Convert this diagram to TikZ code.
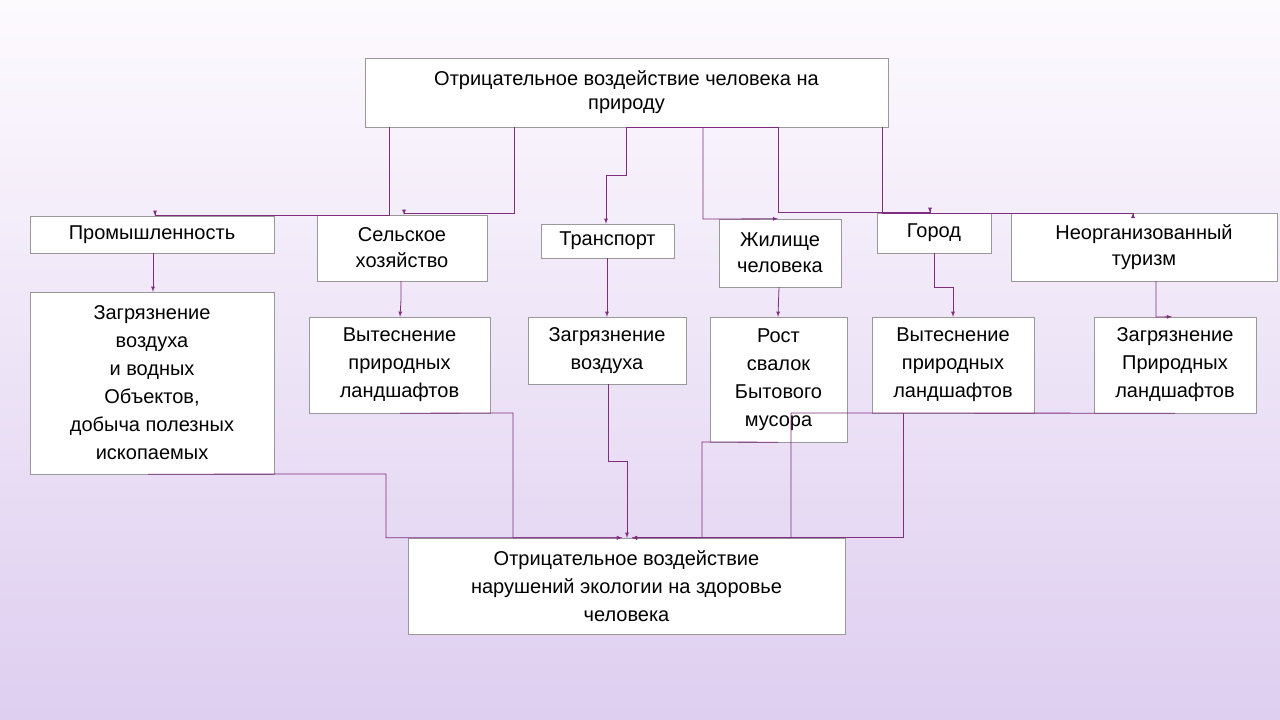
\documentclass[tikz,border=0pt]{standalone}
\usepackage{fontspec}
\setmainfont{Liberation Sans}
\usetikzlibrary{arrows}
\definecolor{linkcol}{RGB}{128,45,128}
\definecolor{bgtop}{RGB}{253,250,254}
\definecolor{bgbot}{RGB}{222,206,240}
\begin{document}
\begin{tikzpicture}[x=1pt,y=-1pt,
        box/.style={draw=gray!80, fill=white, inner sep=1pt, align=center,
            font=\fontsize{20}{28}\selectfont},
        link/.style={draw=linkcol, line width=0.8pt, -latex}]
        % --- BACKGROUND ---
        \shade[top color=bgtop, bottom color=bgbot] (0,0) rectangle (1280,720);
        \useasboundingbox (0,0) rectangle (1280,720);
        % --- BOXES ---
        \newcommand{\bx}[6]{
            % name, x1, y1, x2, y2, text
            \node[box, minimum width=#4-#2, minimum height=#5-#3] (#1) at ({(#2+#4)/2},{(#3+#5)/2}) {#6};
        }
        \bx{top}{365}{58}{888}{127}{Отрицательное воздействие человека на\\[-4pt]природу}
        \bx{prom}{30}{216}{274}{253}{Промышленность}
        \bx{sel}{317}{215}{487}{281}{Сельское\\[-2pt]хозяйство}
        \bx{trans}{541}{224}{674}{258}{Транспорт}
        \bx{zhil}{719}{219}{841}{287}{Жилище\\[-2pt]человека}
        \bx{gorod}{877}{213}{991}{253}{Город}
        \bx{tur}{1011}{213}{1277}{281}{Неорганизованный\\[-2pt]туризм}
        \bx{zagA}{30}{292}{274}{474}{Загрязнение\\воздуха\\и водных\\Объектов,\\добыча полезных\\ископаемых}
        \bx{vytA}{309}{317}{490}{413}{Вытеснение\\природных\\ландшафтов}
        \bx{zagB}{528}{317}{686}{384}{Загрязнение\\воздуха}
        \bx{rost}{710}{317}{847}{442}{Рост\\свалок\\Бытового\\мусора}
        \bx{vytB}{872}{317}{1034}{413}{Вытеснение\\природных\\ландшафтов}
        \bx{zagC}{1094}{317}{1256}{413}{Загрязнение\\Природных\\ландшафтов}
        \bx{health}{408}{538}{845}{634}{Отрицательное воздействие\\нарушений экологии на здоровье\\человека}
        % --- TOP TO CAUSES ---
        \draw[link] (top.south -| 389,0) -- (389,215) -| (prom.north -| 155,0);
        \draw[link] (top.south -| 514,0) -- (514,213) -| (sel.north -| 404,0);
        \draw[link] (top.south -| 626,0) -- (626,175) -| (trans.north -| 606,0);
        \draw[link] (top.south -| 703,0) -- (703,219) -- (zhil.north -| 778,0);
        \draw[linkcol, line width=1.4pt] (top.south -| 626,0) -- (top.south -| 778,0);
        \draw[link] (top.south -| 778,0) -- (778,212) -| (gorod.north -| 930,0);
        \draw[link] (top.south -| 882,0) -- (882,213) -| (tur.north -| 1133,0);
        % --- CAUSES TO EFFECTS ---
        \draw[link] (prom.south -| 153,0) -- (zagA.north -| 153,0);
        \draw[link] (sel.south -| 401,0) -- (401,300) -- (vytA.north -| 400,0);
        \draw[link] (trans.south -| 607,0) -- (zagB.north -| 607,0);
        \draw[link] (zhil.south -| 779,0) -- (rost.north -| 778,0);
        \draw[link] (gorod.south -| 934,0) -- (934,287) -| (vytB.north -| 953,0);
        \draw[link] (tur.south -| 1156,0) -- (1156,317) -- (zagC.north -| 1172,0);
        % --- EFFECTS TO HEALTH ---
        \draw[link] (zagA.south -| 148,0) -- (386,474) |- (health.north -| 622,0);
        \draw[link] (vytA.south -| 400,0) -- (513,413) |- (health.north -| 622,0);
        \draw[link] (zagB.south -| 608,0) -- (608,461) -| (health.north -| 627,0);
        \draw[link] (rost.south -| 778,0) -- (702,442) |- (health.north -| 632,0);
        \draw[link] (vytB.south -| 903,0) |- (health.north -| 632,0);
        \draw[link] (zagC.south -| 1175,0) -- (791,413) |- (health.north -| 632,0);
    \end{tikzpicture}
\end{document}
